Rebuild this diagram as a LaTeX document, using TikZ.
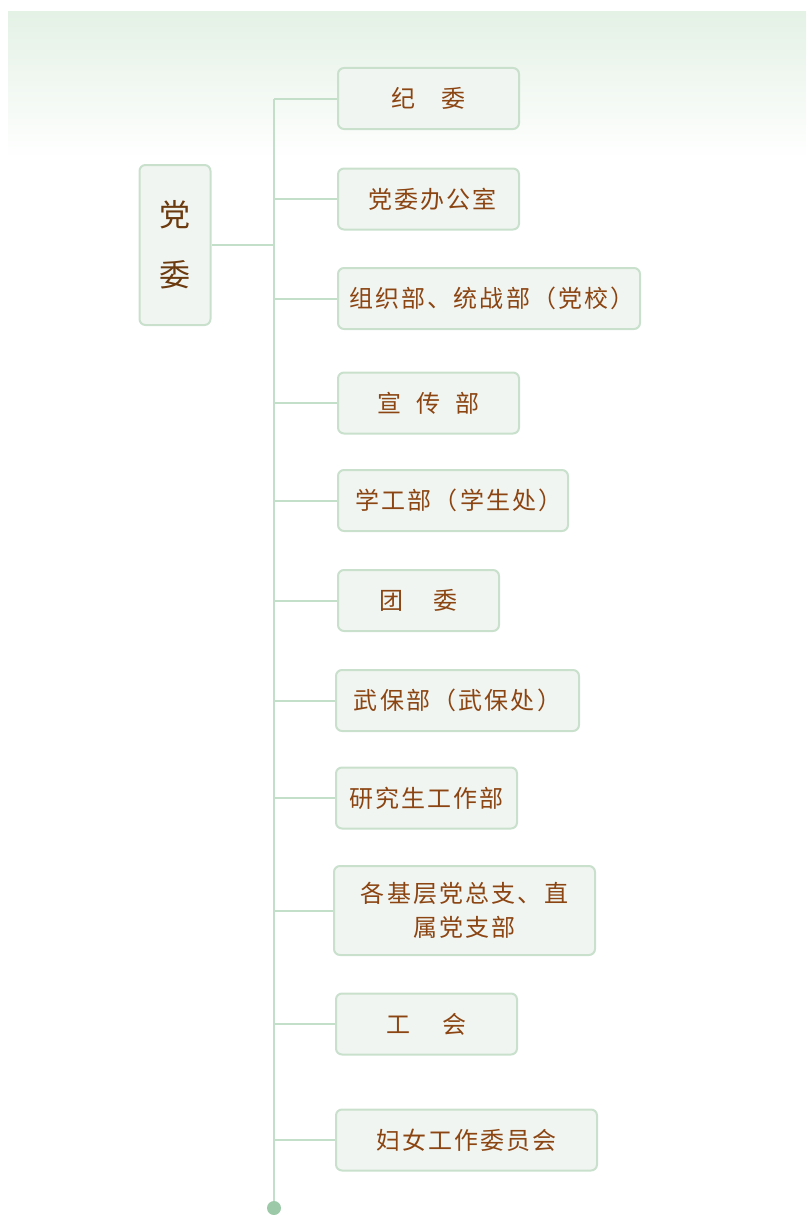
\documentclass[tikz,border=0pt]{standalone}
\usepackage{fontspec}
\setmainfont{Noto Sans CJK SC}
\usetikzlibrary{calc,positioning}

\definecolor{linkgreen}{HTML}{C3DEC9}
\definecolor{dotgreen}{HTML}{9CC9A8}
\definecolor{boxfill}{HTML}{F1F5F1}
\definecolor{boxline}{HTML}{C8E0CC}
\definecolor{deptbrown}{HTML}{8B4513}
\definecolor{rootbrown}{HTML}{6B3A0E}
\definecolor{bandgreen}{HTML}{E4F1E5}

\tikzset{
    dept/.style={draw=boxline, line width=2pt, fill=boxfill, rounded corners=6pt,
        minimum height=61pt, inner sep=0pt, text=deptbrown, align=center,
        font=\fontsize{24}{34}\selectfont\addfontfeatures{LetterSpace=9}},
    root/.style={dept, text=rootbrown, font=\fontsize{31}{60}\selectfont},
    link/.style={draw=linkgreen, line width=2pt}
}

\begin{document}
\begin{tikzpicture}[x=1pt,y=-1pt]
    \useasboundingbox (0,0) rectangle (806,1215);
    \shade[top color=bandgreen, bottom color=white] (8,12) rectangle (806,160);

    \node[root, minimum width=71pt, minimum height=160pt] (dw) at (175,245) {党\\委};

    \node[dept, minimum width=181pt] (jw)   at (428.5,98.5) {纪\hspace{26pt}委};
    \node[dept, minimum width=181pt] (bgs)  at (428.5,199)  {\hspace{8pt}党委办公室};
    \node[dept, minimum width=302pt] (zzb)  at (489,298.5)  {\hspace{6pt}组织部、统战部（党校）};
    \node[dept, minimum width=181pt] (xcb)  at (428.5,403)  {宣\hspace{15pt}传\hspace{15pt}部};
    \node[dept, minimum width=230pt] (xgb)  at (453,500.5)  {\hspace{12pt}学工部（学生处）};
    \node[dept, minimum width=161pt] (tw)   at (418.5,600.5) {团\hspace{30pt}委};
    \node[dept, minimum width=243pt] (wbb)  at (457.5,700.5) {武保部（武保处）};
    \node[dept, minimum width=181pt] (yjs)  at (426.5,798)  {研究生工作部};
    \node[dept, minimum width=261pt, minimum height=89pt] (jcz) at (464.5,910.5) {各基层党总支、直\\属党支部};
    \node[dept, minimum width=181pt] (gh)   at (426.5,1024) {工\hspace{32pt}会};
    \node[dept, minimum width=261pt] (fw)   at (466.5,1140) {妇女工作委员会};

    % trunk
    \coordinate (top) at (274,98.5);
    \coordinate (end) at (274,1208);
    \draw[link] (top) -- (end);
    \fill[dotgreen] (end) circle[radius=7pt];

    \draw[link] (dw.east) -- (dw.east -| top);
    \foreach \d in {jw,bgs,zzb,xcb,xgb,tw,wbb,yjs,jcz,gh,fw} {
        \draw[link] (\d.west) -- (\d.west -| top);
    }
\end{tikzpicture}
\end{document}
